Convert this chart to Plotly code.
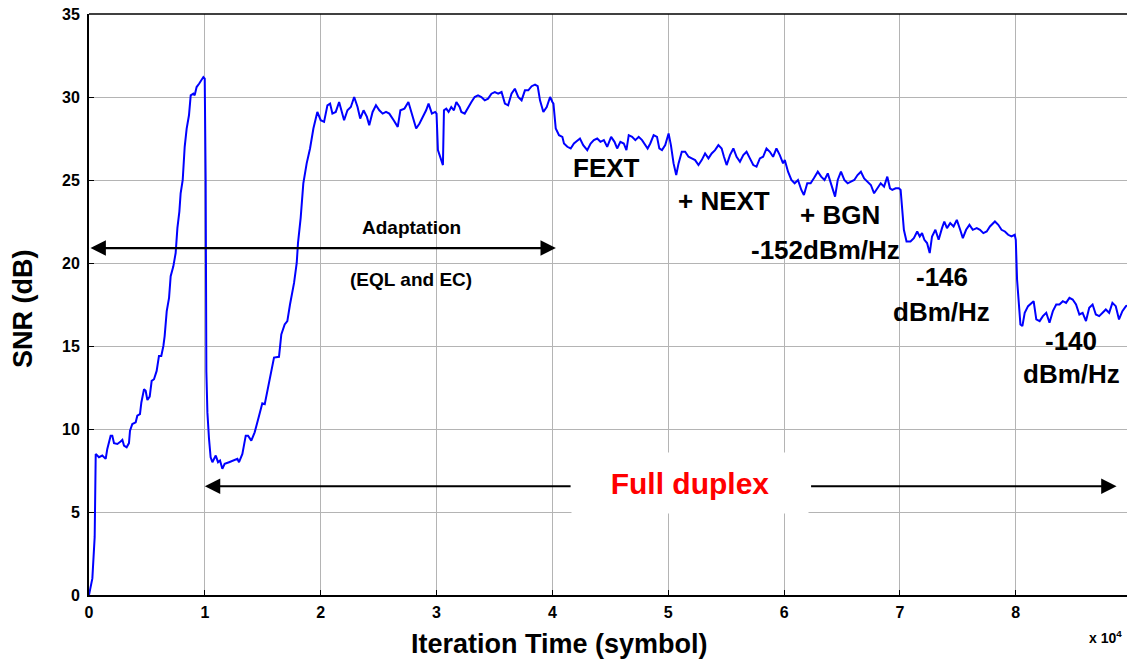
import plotly.graph_objects as go

# Iteration time (x 10^4 symbols) and SNR (dB)
iter_x = [
    0.000, 0.029, 0.049, 0.058, 0.086, 0.115, 0.144, 0.158, 0.187, 0.201, 0.216, 0.245,
    0.273, 0.288, 0.302, 0.325, 0.345, 0.354, 0.374, 0.403, 0.417, 0.440, 0.452, 0.475,
    0.489, 0.504, 0.524, 0.541, 0.561, 0.584, 0.604, 0.624, 0.642, 0.653, 0.671, 0.691,
    0.705, 0.728, 0.748, 0.763, 0.780, 0.791, 0.809, 0.826, 0.843, 0.863, 0.878, 0.901,
    0.912, 0.929, 0.950, 0.970, 0.987, 0.999, 1.007, 1.013, 1.022, 1.036, 1.050, 1.065,
    1.094, 1.114, 1.131, 1.151, 1.171, 1.209, 1.252, 1.281, 1.295, 1.324, 1.353, 1.373,
    1.401, 1.430, 1.468, 1.496, 1.517, 1.540, 1.568, 1.597, 1.640, 1.660, 1.689, 1.712,
    1.735, 1.770, 1.793, 1.804, 1.827, 1.850, 1.879, 1.908, 1.937, 1.971,
    2.000, 2.029, 2.058, 2.081, 2.101, 2.130, 2.159, 2.188, 2.202, 2.231, 2.260, 2.289,
    2.318, 2.341, 2.370, 2.399, 2.419, 2.448, 2.477, 2.506, 2.535, 2.564, 2.592, 2.630,
    2.665, 2.688, 2.723, 2.757, 2.780, 2.803, 2.824, 2.853, 2.882, 2.910, 2.931, 2.960,
    2.988, 3.000, 3.012, 3.035, 3.055, 3.064, 3.084, 3.104, 3.127, 3.150, 3.171, 3.199,
    3.214, 3.243, 3.272, 3.301, 3.329, 3.358, 3.387, 3.416, 3.445, 3.474, 3.503, 3.532,
    3.561, 3.590, 3.618, 3.647, 3.676, 3.705, 3.734, 3.763, 3.792, 3.821, 3.850, 3.873,
    3.893, 3.922, 3.951, 3.980, 4.000,
    4.009, 4.029, 4.057, 4.086, 4.100, 4.129, 4.158, 4.186, 4.215, 4.238, 4.266, 4.301,
    4.330, 4.358, 4.387, 4.415, 4.444, 4.473, 4.507, 4.536, 4.559, 4.587, 4.616, 4.639,
    4.659, 4.688, 4.716, 4.745, 4.774, 4.802, 4.822, 4.845, 4.874, 4.903, 4.923, 4.946,
    4.974, 5.003, 5.023, 5.046, 5.069, 5.089, 5.117, 5.146, 5.175, 5.203, 5.232, 5.261,
    5.289, 5.318, 5.347, 5.375, 5.404, 5.433, 5.461, 5.481, 5.504, 5.533, 5.562, 5.590,
    5.619, 5.648, 5.676, 5.705, 5.734, 5.762, 5.791, 5.819, 5.848, 5.877, 5.905, 5.934,
    5.963, 5.991,
    6.006, 6.034, 6.063, 6.091, 6.120, 6.149, 6.171, 6.200, 6.229, 6.257, 6.291, 6.320,
    6.349, 6.377, 6.406, 6.440, 6.463, 6.491, 6.520, 6.549, 6.577, 6.606, 6.634, 6.663,
    6.691, 6.720, 6.749, 6.777, 6.806, 6.834, 6.863, 6.891, 6.914, 6.934, 6.963, 6.991,
    7.006, 7.020, 7.034, 7.057, 7.091, 7.120, 7.149, 7.171, 7.191, 7.211, 7.234, 7.257,
    7.277, 7.306, 7.334, 7.363, 7.383, 7.406, 7.434, 7.463, 7.491, 7.520, 7.543, 7.571,
    7.600, 7.629, 7.663, 7.691, 7.720, 7.749, 7.777, 7.820, 7.849, 7.877, 7.906, 7.934,
    7.963, 7.991, 8.000, 8.011, 8.029, 8.040, 8.057, 8.077, 8.106, 8.134, 8.154, 8.177,
    8.206, 8.234, 8.263, 8.291, 8.320, 8.349, 8.377, 8.406, 8.434, 8.463, 8.491, 8.520,
    8.549, 8.577, 8.606, 8.634, 8.663, 8.691, 8.720, 8.749, 8.777, 8.806, 8.834, 8.863,
    8.891, 8.920, 8.951, 8.990,
]

snr_db = [
    0.0, 1.0, 3.5, 8.5, 8.3, 8.4, 8.2, 8.8, 9.6, 9.6, 9.15, 9.1,
    9.25, 9.35, 9.0, 8.9, 9.15, 9.9, 10.3, 10.4, 10.8, 10.9, 11.6, 12.4,
    12.3, 11.75, 11.95, 12.9, 13.0, 13.5, 14.4, 14.4, 15.0, 15.6, 17.1, 17.9,
    19.2, 19.8, 20.6, 22.1, 23.1, 24.2, 25.0, 27.0, 28.1, 28.9, 30.1, 30.2,
    30.1, 30.6, 30.8, 31.0, 31.2, 31.1, 25.0, 13.5, 11.0, 9.4, 8.3, 8.0,
    8.4, 8.0, 8.1, 7.6, 7.9, 8.0, 8.1, 8.2, 8.0, 8.5, 9.6, 9.6,
    9.3, 9.8, 10.8, 11.55, 11.5, 12.3, 13.5, 14.3, 14.35, 15.7, 16.3, 16.5,
    17.5, 18.8, 20.0, 21.2, 22.7, 24.8, 26.0, 26.9, 28.1, 29.1,
    28.6, 28.5, 29.5, 29.6, 29.0, 29.1, 29.7, 29.0, 28.6, 29.2, 29.4, 30.0,
    29.4, 28.7, 29.2, 28.8, 28.3, 29.1, 29.5, 29.2, 29.0, 29.1, 29.0, 28.6,
    28.2, 29.2, 29.3, 29.7, 29.2, 28.6, 28.1, 28.4, 28.8, 29.2, 29.6, 29.0,
    29.1, 29.0, 26.8, 26.3, 25.9, 29.2, 29.3, 29.1, 29.4, 29.2, 29.7, 29.4,
    29.1, 29.0, 29.4, 29.7, 30.0, 30.1, 30.0, 29.8, 29.9, 30.2, 30.3, 30.2,
    30.3, 29.6, 29.5, 30.2, 30.5, 30.0, 29.8, 30.4, 30.4, 30.65, 30.75, 30.65,
    29.8, 29.1, 29.4, 30.0, 29.7,
    29.6, 28.1, 27.7, 27.6, 27.2, 27.0, 26.9, 27.2, 27.4, 27.5, 27.1, 26.8,
    27.2, 27.4, 27.5, 27.3, 27.4, 27.0, 27.6, 27.3, 26.9, 27.3, 27.2, 26.8,
    27.7, 27.6, 27.4, 27.6, 27.4, 27.1, 26.9, 27.2, 27.7, 27.6, 26.9, 26.8,
    27.1, 27.8, 27.1, 26.0, 25.3, 26.0, 26.7, 26.7, 26.4, 26.3, 26.2, 25.9,
    26.2, 26.6, 26.3, 26.6, 26.8, 27.1, 26.9, 26.4, 25.9, 26.5, 26.9, 26.4,
    26.1, 26.5, 26.7, 26.3, 25.9, 25.8, 26.3, 26.4, 26.9, 26.7, 26.4, 26.9,
    26.5, 26.0,
    26.2, 25.5, 25.0, 24.8, 25.0, 24.4, 24.1, 24.8, 24.8, 25.1, 25.5, 25.2,
    25.0, 25.4, 24.8, 24.0, 25.0, 25.5, 25.0, 24.8, 24.9, 25.0, 25.3, 25.5,
    25.1, 24.9, 24.7, 24.2, 24.5, 24.8, 24.6, 25.2, 24.5, 24.4, 24.5, 24.5,
    24.4, 23.2, 22.0, 21.3, 21.3, 21.5, 21.9, 21.6, 21.8, 21.4, 21.2, 20.6,
    21.6, 22.0, 21.4, 22.1, 22.5, 22.1, 22.4, 22.2, 22.6, 22.0, 21.5, 22.0,
    22.3, 22.0, 22.1, 22.0, 21.8, 21.9, 22.2, 22.5, 22.3, 22.0, 21.9, 21.7,
    21.6, 21.7, 21.4, 19.0, 17.3, 16.3, 16.2, 17.0, 17.4, 17.6, 17.7, 16.6,
    16.5, 16.8, 17.0, 16.4, 17.1, 17.5, 17.5, 17.7, 17.6, 17.9, 17.8, 17.5,
    16.9, 17.0, 16.5, 17.3, 17.5, 16.9, 16.8, 17.0, 17.2, 17.0, 17.6, 17.4,
    16.6, 17.1, 17.4, 17.5,
]

x_ticks = [0, 1, 2, 3, 4, 5, 6, 7, 8, 9]
y_ticks = [0, 5, 10, 15, 20, 25, 30, 35]

# In-plot text labels: (text, x, y)
stage_labels = ["FEXT", "+ NEXT", "+ BGN", "-152dBm/Hz", "-146", "dBm/Hz", "-140", "dBm/Hz"]
stage_x = [4.47, 5.48, 6.48, 6.36, 7.36, 7.36, 8.48, 8.48]
stage_y = [25.75, 23.75, 22.9, 20.8, 19.15, 17.05, 15.3, 13.3]

FONT = "Liberation Sans, Arial, sans-serif"

fig = go.Figure()
fig.add_trace(go.Scatter(
    x=iter_x, y=snr_db, mode="lines",
    line=dict(color="#0000ff", width=2),
    showlegend=False, hoverinfo="skip",
))

annotations = []
for t, xx, yy in zip(stage_labels, stage_x, stage_y):
    annotations.append(dict(
        text=t, x=xx, y=yy, xref="x", yref="y", showarrow=False,
        font=dict(family=FONT, size=26, color="black", weight="bold"),
    ))

# Adaptation double arrow
annotations.append(dict(
    x=4.03, y=20.9, ax=0.0, ay=20.9, xref="x", yref="y", axref="x", ayref="y",
    text="", showarrow=True, arrowhead=2, arrowside="end+start",
    arrowsize=1.4, arrowwidth=2.2, arrowcolor="black",
))
annotations.append(dict(
    text="Adaptation", x=2.78, y=22.15, xref="x", yref="y", showarrow=False,
    font=dict(family=FONT, size=19, color="black", weight="bold"),
))
annotations.append(dict(
    text="(EQL and EC)", x=2.78, y=19.0, xref="x", yref="y", showarrow=False,
    font=dict(family=FONT, size=19, color="black", weight="bold"),
))

# Full duplex arrows and label
annotations.append(dict(
    x=1.0, y=6.55, ax=4.17, ay=6.55, xref="x", yref="y", axref="x", ayref="y",
    text="", showarrow=True, arrowhead=2, arrowsize=1.4, arrowwidth=2.2, arrowcolor="black",
))
annotations.append(dict(
    x=8.87, y=6.55, ax=6.22, ay=6.55, xref="x", yref="y", axref="x", ayref="y",
    text="", showarrow=True, arrowhead=2, arrowsize=1.4, arrowwidth=2.2, arrowcolor="black",
))
annotations.append(dict(
    text="Full duplex", x=5.19, y=6.75, xref="x", yref="y", showarrow=False,
    width=234, height=58, bgcolor="white", borderpad=1,
    font=dict(family=FONT, size=30, color="#ff0000", weight="bold"),
))

# Axis titles and exponent label
annotations.append(dict(
    text="Iteration Time (symbol)", x=(559 - 89) / 1038, y=(595 - 644) / 581,
    xref="paper", yref="paper", showarrow=False, xanchor="center", yanchor="middle",
    font=dict(family=FONT, size=27, color="black", weight="bold"),
))
annotations.append(dict(
    text="SNR (dB)", x=(23 - 89) / 1038, y=(595 - 309) / 581, textangle=-90,
    xref="paper", yref="paper", showarrow=False, xanchor="center", yanchor="middle",
    font=dict(family=FONT, size=27, color="black", weight="bold"),
))
annotations.append(dict(
    text="x 10<sup>4</sup>", x=(1087 - 89) / 1038, y=(595 - 637) / 581,
    xref="paper", yref="paper", showarrow=False, xanchor="left", yanchor="middle",
    font=dict(family=FONT, size=14, color="black", weight="bold"),
))

fig.update_layout(
    width=1127, height=659,
    margin=dict(l=89, r=0, t=14, b=64),
    paper_bgcolor="white", plot_bgcolor="white",
    annotations=annotations,
    shapes=[dict(type="line", xref="paper", yref="paper", x0=0, x1=1, y0=1, y1=1,
                 line=dict(color="black", width=1.5))],
)
fig.update_xaxes(
    range=[0, 8.96], tickvals=x_ticks, ticktext=[str(v) for v in x_ticks],
    showgrid=True, gridcolor="#b4b4b4", gridwidth=1,
    showline=True, linecolor="black", linewidth=2, zeroline=False,
    ticks="inside", ticklen=5, tickcolor="black", tickwidth=1,
    tickfont=dict(family=FONT, size=16, color="black", weight="bold"),
    ticklabelstandoff=2,
)
fig.update_yaxes(
    range=[0, 35], tickvals=y_ticks, ticktext=[str(v) for v in y_ticks],
    showgrid=True, gridcolor="#b4b4b4", gridwidth=1,
    showline=True, linecolor="black", linewidth=2, zeroline=False,
    ticks="inside", ticklen=5, tickcolor="black", tickwidth=1,
    tickfont=dict(family=FONT, size=16, color="black", weight="bold"),
    ticklabelstandoff=4,
)

fig.write_html("out.html")
